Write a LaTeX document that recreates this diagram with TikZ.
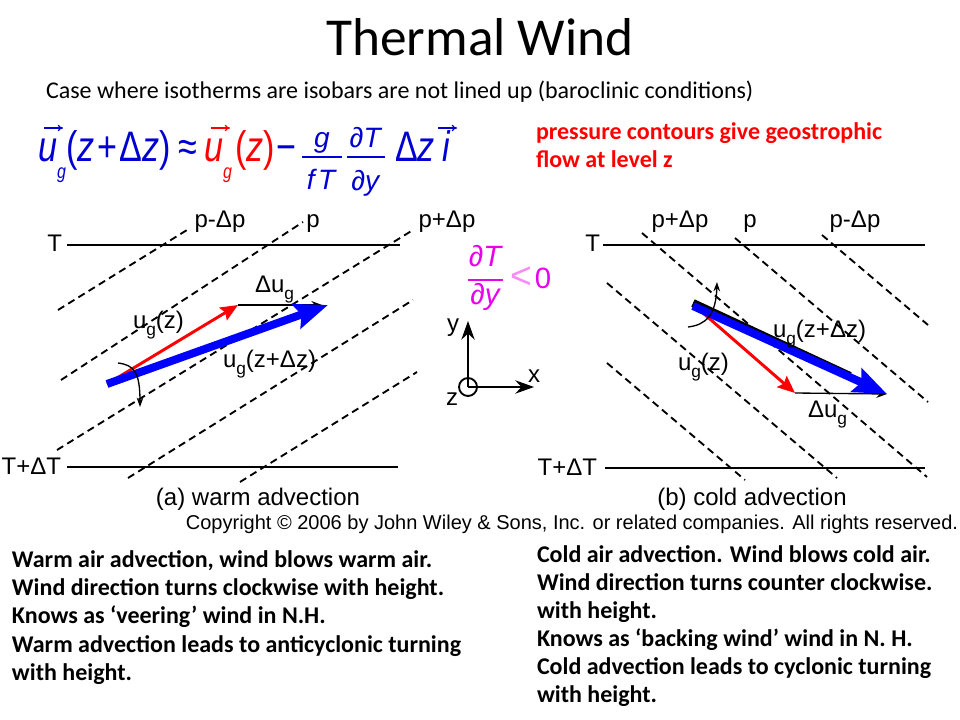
\documentclass[tikz,border=0pt]{standalone}
\usepackage{fontspec}
\setmainfont{Carlito}
\newfontfamily\arial{Liberation Sans}
\usetikzlibrary{arrows.meta}
\definecolor{eqblue}{RGB}{0,0,210}
\definecolor{vblue}{RGB}{0,0,255}
\definecolor{vred}{RGB}{255,0,0}
\definecolor{mag}{RGB}{235,0,235}
\newcommand{\gsb}{\raisebox{-0.32em}{\fontsize{13}{13}\selectfont g}}
\newcommand{\sq}[1]{\scalebox{0.8}[1]{#1}}
\begin{document}
\begin{tikzpicture}[x=0.75pt,y=-0.75pt,inner sep=0pt,outer sep=0pt,
  lab/.style={font=\arial\fontsize{18}{18}\selectfont,anchor=base west},
  labc/.style={font=\arial\fontsize{18}{18}\selectfont,anchor=base},
  eq/.style={font=\arial\fontsize{32}{32}\selectfont,text=eqblue,anchor=base west},
  eqs/.style={font=\arial\fontsize{15}{15}\selectfont\itshape,text=eqblue,anchor=base west},
  eqf/.style={font=\arial\fontsize{21}{21}\selectfont,text=eqblue,anchor=base},
  iso/.style={line width=1.4pt,dash pattern=on 5.5pt off 3.5pt},
  tline/.style={line width=1.5pt},
  body/.style={font=\fontsize{18}{18}\selectfont\bfseries,anchor=base west},
  note/.style={font=\fontsize{18}{18}\selectfont\bfseries,text=vred,anchor=base west},
  vecarr/.style={line width=0.9pt,-{To[length=4pt,width=5pt]}}
]
\useasboundingbox[fill=white] (0,0) rectangle (960,720);

% title
\node[font=\fontsize{40}{40}\selectfont,anchor=base] (title) at (480,56) {Thermal Wind};
\node[font=\fontsize{18}{18}\selectfont,anchor=base west] (sub) at (46,99) {Case where isotherms are isobars are not lined up (baroclinic conditions)};

% equation
\node[eq] (e1) at (38,162) {\sq{\itshape u}};
\node[eqs] (e2) at (57,179) {\sq{g}};
\node[eq] (e3) at (66,162) {\sq{(\textit{z}\kern2.5pt+\kern2.5ptΔ\textit{z})}};
\node[eq] (e4) at (178,162) {\sq{≈}};
\node[eq,text=vred] (e5) at (204,162) {\sq{\itshape u}};
\node[eqs,text=vred] (e6) at (223,179) {\sq{g}};
\node[eq,text=vred] (e7) at (235,162) {\sq{(\textit{z})}};
\node[eq] (e8) at (276,162) {\sq{−}};
\node[eqf] (f1) at (322,148) {\itshape g};
\node[eqf] (f2) at (321,190) {\itshape f\kern2.5pt T};
\node[eqf] (f3) at (366,148) {∂\textit{T}};
\node[eqf] (f4) at (366,191) {∂\textit{y}};
\draw[eqblue,line width=1.3pt] (302,157) -- (342,157);
\draw[eqblue,line width=1.3pt] (347,157) -- (385,157);
\node[eq] (e9) at (395,162) {\sq{Δ\textit{z}}};
\node[eq] (e10) at (442,162) {\sq{\itshape i}};
\draw[vecarr,eqblue] (44,128) -- (63,128);
\draw[vecarr,vred] (211,128) -- (230,128);
\draw[vecarr,eqblue] (438,128) -- (457,128);

% red note
\node[note] (n1) at (536,140) {pressure contours give geostrophic};
\node[note] (n2) at (536,168) {flow at level z};

% ---------- left diagram ----------
\draw[tline] (67,245) -- (400,245);
\draw[tline] (67,467) -- (398,467);
\node[lab,anchor=base east] (lT) at (62,252) {T};
\node[lab,anchor=base east] (lTd) at (61,474) {T+ΔT};
\node[labc] (lp1) at (220,228) {p-Δp};
\node[labc] (lp2) at (313,228) {p};
\node[labc] (lp3) at (447,228) {p+Δp};
\draw[iso] (58,310) -- (187,230);
\draw[iso] (61,380) -- (303,222);
\draw[iso] (57,450) -- (413,230);
\draw[iso] (128,478) -- (413,300);
\draw[iso] (240,482) -- (417,372);

\coordinate (lo) at (107,384);
\coordinate (lr) at (238,305);
\coordinate (lb) at (328,305);
\draw[line width=1pt,-{Stealth[length=8pt,width=6pt]}] (lr) -- (322,305);
\draw[vred,line width=2.2pt,-{Stealth[length=13pt,width=11pt,inset=2pt]}] (lo) -- (lr);
\draw[vblue,line width=6pt,-{Stealth[length=25pt,width=19pt,inset=4pt]}] (lo) -- (lb);
\draw[line width=1pt,-{Stealth[length=7pt,width=5pt]}] (118,363) .. controls (134,365) and (140,372) .. (140,407);
\node[lab] (lu1) at (133,328) {u\gsb(z)};
\node[lab] (lu2) at (223,367) {u\gsb(z+Δz)};
\node[lab] (ldu) at (255,292) {Δu\gsb};
\node[labc] (lcap) at (258,505) {(a) warm advection};

% ---------- middle ----------
\node[font=\arial\fontsize{22}{22}\selectfont\itshape,text=mag,anchor=base] (m1) at (485,267) {∂T};
\node[font=\arial\fontsize{22}{22}\selectfont\itshape,text=mag,anchor=base] (m2) at (485,305) {∂y};
\draw[mag,line width=1.2pt] (468,280) -- (503,280);
\node[font=\arial\fontsize{28}{28}\selectfont,text=mag!45,anchor=base] (m3) at (521,289) {<};
\node[font=\arial\fontsize{22}{22}\selectfont,text=mag,anchor=base] (m4) at (543,288) {0};

\coordinate (ax) at (468,387);
\draw[line width=1.4pt] (ax) circle (9);
\draw[line width=1.4pt,-{Stealth[length=14pt,width=10pt]}] (ax) -- (468,321);
\draw[line width=1.4pt,-{Stealth[length=14pt,width=10pt]}] (ax) -- (534,387);
\node[labc] (ay) at (453,331) {y};
\node[labc] (axl) at (534,382) {x};
\node[labc] (az) at (452,405) {z};

% ---------- right diagram ----------
\draw[tline] (603,245) -- (925,245);
\draw[tline] (605,468) -- (925,468);
\node[lab,anchor=base east] (rT) at (600,252) {T};
\node[lab,anchor=base east] (rTd) at (597,475) {T+ΔT};
\node[labc] (rp1) at (680,228) {p+Δp};
\node[labc] (rp2) at (750,228) {p};
\node[labc] (rp3) at (855,228) {p-Δp};
\draw[iso] (607,363) -- (745,480);
\draw[iso] (607,283) -- (837,478);
\draw[iso] (642,233) -- (927,477);
\draw[iso] (735,238) -- (928,402);
\draw[iso] (822,235) -- (928,325);

\coordinate (ro) at (693,306);
\coordinate (rr) at (795,393);
\coordinate (rb) at (887,394);
\draw[line width=1pt,-{Stealth[length=8pt,width=6pt]}] (rr) -- (rb);
\draw[vred,line width=2.2pt,-{Stealth[length=13pt,width=11pt,inset=2pt]}] (703,313) -- (rr);
\draw[black,line width=6pt] (693,303) -- (850,376);
\draw[vblue,line width=6pt,-{Stealth[length=25pt,width=19pt,inset=4pt]}] (ro) -- (rb);
\draw[line width=1pt,-{Stealth[length=7pt,width=5pt]}] (688,327) .. controls (705,325) and (716,316) .. (717,282);
\node[lab] (ru1) at (678,370) {u\gsb(z)};
\node[lab] (ru2) at (773,337) {u\gsb(z+Δz)};
\node[lab] (rdu) at (808,417) {Δu\gsb};
\node[labc] (rcap) at (752,505) {(b) cold advection};

\node[font=\arial\fontsize{15}{15}\selectfont,anchor=base] (copy) at (572,529) {Copyright © 2006 by John Wiley \& Sons, Inc. or related companies. All rights reserved.};

% ---------- bottom text ----------
\node[body] (b1) at (12,567) {Warm air advection, wind blows warm air.};
\node[body] (b2) at (12,595) {Wind direction turns clockwise with height.};
\node[body] (b3) at (12,623) {Knows as ‘veering’ wind in N.H.};
\node[body] (b4) at (12,652) {Warm advection leads to anticyclonic turning};
\node[body] (b5) at (12,680) {with height.};
\node[body] (c1) at (537,562) {Cold air advection. Wind blows cold air.};
\node[body] (c2) at (537,590) {Wind direction turns counter clockwise.};
\node[body] (c3) at (537,618) {with height.};
\node[body] (c4) at (537,646) {Knows as ‘backing wind’ wind in N. H.};
\node[body] (c5) at (537,674) {Cold advection leads to cyclonic turning};
\node[body] (c6) at (537,702) {with height.};
\end{tikzpicture}
\end{document}
